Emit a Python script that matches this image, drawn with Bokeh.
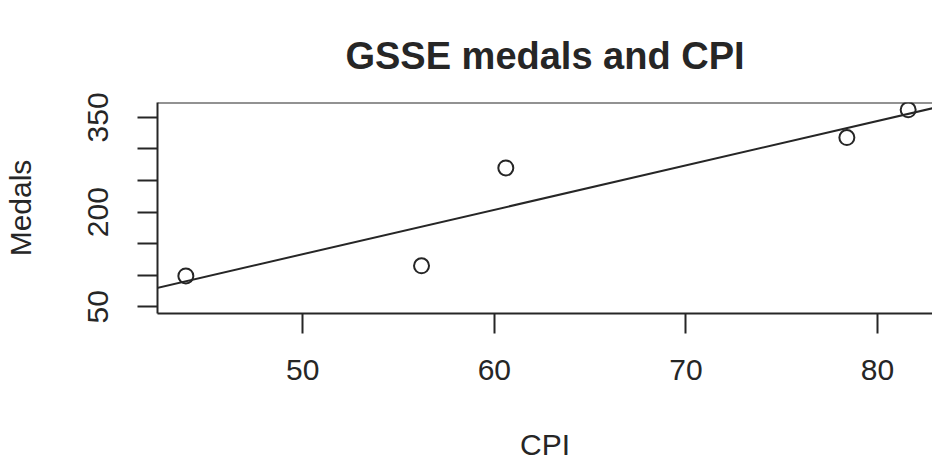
import numpy as np
from bokeh.plotting import figure
from bokeh.models import FixedTicker, Range1d, Span, Slope
from bokeh.embed import file_html
from bokeh.resources import INLINE

# Data
cpi = [43.9, 56.2, 60.6, 78.4, 81.6]
medals = [99, 115, 270, 318, 362]

x_ticks = [50, 60, 70, 80]
y_ticks = [50, 100, 150, 200, 250, 300, 350]
y_labels = {50: "50", 100: "", 150: "", 200: "200", 250: "", 300: "", 350: "350"}
title_text = "GSSE medals and CPI"

INK = "#262626"
FONT = "Liberation Sans"

X0, X1 = 42.42, 82.87
Y0, Y1 = 39.5, 373.6

p = figure(width=932, height=463, output_backend="svg", toolbar_location=None,
           x_range=Range1d(X0, X1), y_range=Range1d(Y0, Y1),
           min_border_left=157, min_border_right=0, min_border_top=102, min_border_bottom=148)

p.title.text = title_text
p.title.align = "center"
p.title.text_font = FONT
p.title.text_font_size = "38px"
p.title.text_font_style = "bold"
p.title.text_color = INK
p.title.standoff = 52
p.title.offset = 3

p.grid.visible = False
p.outline_line_color = None
p.background_fill_color = "white"
p.border_fill_color = "white"

for ax in (p.xaxis[0], p.yaxis[0]):
    ax.axis_line_color = INK
    ax.axis_line_width = 2
    ax.major_tick_line_color = INK
    ax.major_tick_line_width = 2
    ax.major_tick_in = 0
    ax.major_tick_out = 20
    ax.minor_tick_line_color = None
    ax.major_label_text_font = FONT
    ax.major_label_text_font_size = "30px"
    ax.major_label_text_color = INK
    ax.axis_label_text_font = FONT
    ax.axis_label_text_font_size = "30px"
    ax.axis_label_text_font_style = "normal"
    ax.axis_label_text_color = INK

p.xaxis.ticker = FixedTicker(ticks=x_ticks)
p.xaxis.axis_label = "CPI"
p.xaxis.major_label_standoff = 26
p.xaxis.axis_label_standoff = 45

p.yaxis.ticker = FixedTicker(ticks=y_ticks)
p.yaxis.major_label_overrides = y_labels
p.yaxis.major_label_orientation = "vertical"
p.yaxis.axis_label = "Medals"
p.yaxis.major_label_standoff = 29
p.yaxis.axis_label_standoff = 49

# top edge of the box
p.add_layout(Span(location=Y1, dimension="width", line_color=INK, line_width=2))

# least squares line
slope, intercept = np.polyfit(cpi, medals, 1)
p.add_layout(Slope(gradient=slope, y_intercept=intercept, line_color=INK, line_width=2))

p.scatter(cpi, medals, marker="circle", size=15, fill_color=None,
          line_color=INK, line_width=2)

open("out.html", "w").write(file_html(p, INLINE))
